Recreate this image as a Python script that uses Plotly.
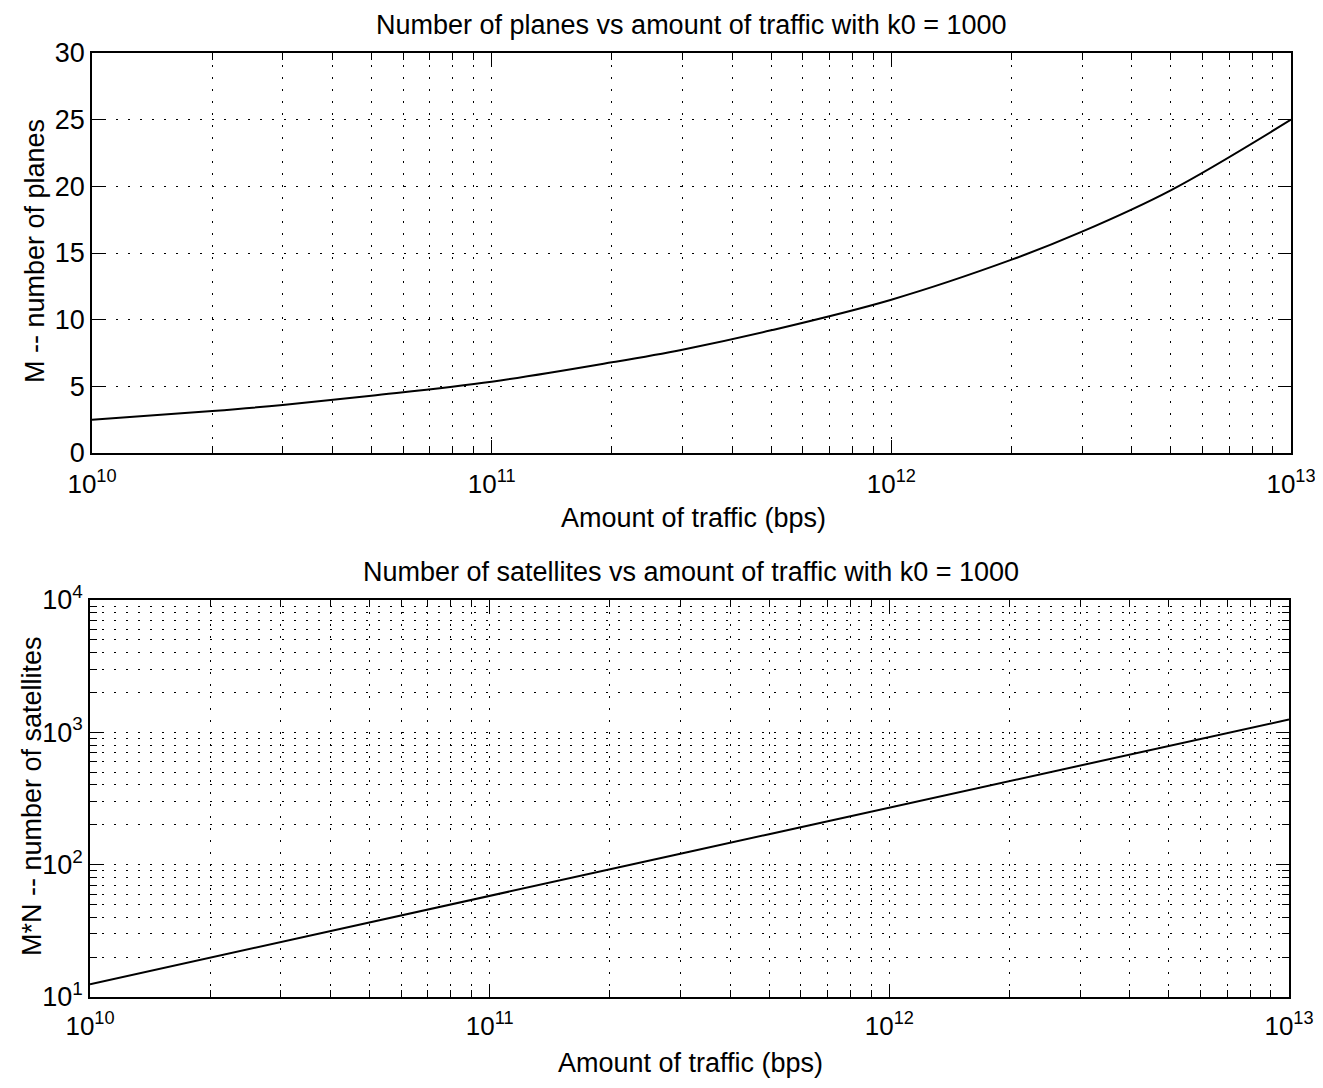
import plotly.graph_objects as go

# Data
traffic_bps = [1e10, 2e10, 3e10, 5e10, 1e11, 2e11, 3e11, 5e11, 1e12, 2e12, 3e12, 5e12, 1e13]
planes_M = [2.5, 3.15, 3.6, 4.3, 5.35, 6.8, 7.75, 9.2, 11.5, 14.5, 16.6, 19.7, 25.0]
satellites_MN = [12.5, 19.8, 26.0, 36.5, 58.0, 92.0, 121.0, 170.0, 270.0, 430.0, 562.0, 790.0, 1250.0]

x_tickvals = [1e10, 1e11, 1e12, 1e13]
x_ticktext = ["10<sup>10</sup>", "10<sup>11</sup>", "10<sup>12</sup>", "10<sup>13</sup>"]
y1_tickvals = [0, 5, 10, 15, 20, 25, 30]
y2_tickvals = [1e1, 1e2, 1e3, 1e4]
y2_ticktext = ["10<sup>1</sup>", "10<sup>2</sup>", "10<sup>3</sup>", "10<sup>4</sup>"]

title_top = "Number of planes vs amount of traffic with k0 = 1000"
title_bot = "Number of satellites vs amount of traffic with k0 = 1000"
xlabel = "Amount of traffic (bps)"
ylabel_top = "M -- number of planes"
ylabel_bot = "M*N -- number of satellites"

OFF = 8  # default page body margin
W, H = 1315, 1072
FONT = "Liberation Sans, Arial, Helvetica, sans-serif"

def px_x(p):
    return (p - OFF) / W

def px_y(p):
    return 1 - (p - OFF) / H

fig = go.Figure()
fig.add_trace(go.Scatter(x=traffic_bps, y=planes_M, mode="lines", line=dict(color="black", width=2),
                         line_shape="spline", xaxis="x", yaxis="y", showlegend=False))
fig.add_trace(go.Scatter(x=traffic_bps, y=satellites_MN, mode="lines", line=dict(color="black", width=2),
                         xaxis="x2", yaxis="y2", showlegend=False))

DASH = "1.5px,10.5px"
grid_common = dict(showgrid=True, gridcolor="black", gridwidth=1.3, griddash=DASH)
axis_common = dict(showline=True, linecolor="black", linewidth=1.5, mirror="ticks",
                   ticks="inside", ticklen=13, tickcolor="black", tickwidth=1.3,
                   zeroline=False, automargin=False, ticklabeloverflow="allow",
                   tickfont=dict(size=27, color="black", family=FONT))
xaxis_common = dict(axis_common, tickfont=dict(size=26, color="black", family=FONT))

minor_log = dict(dtick="D1", ticks="inside", ticklen=7, tickcolor="black", tickwidth=1.2,
                 showgrid=True, gridcolor="black", gridwidth=1.3, griddash=DASH)

fig.update_layout(
    width=W, height=H,
    margin=dict(l=0, r=0, t=0, b=0, autoexpand=False),
    paper_bgcolor="white", plot_bgcolor="white",
    font=dict(family=FONT, color="black"),
    xaxis=dict(type="log", range=[10, 13], domain=[px_x(92), px_x(1291)], anchor="y",
               tickvals=x_tickvals, ticktext=x_ticktext, ticklabelstandoff=7,
               minor=minor_log, **grid_common, **xaxis_common),
    yaxis=dict(range=[0, 30], domain=[px_y(453), px_y(53)], anchor="x",
               tickvals=y1_tickvals, **grid_common, **axis_common),
    xaxis2=dict(type="log", range=[10, 13], domain=[px_x(90), px_x(1289)], anchor="y2",
                tickvals=x_tickvals, ticktext=x_ticktext, ticklabelstandoff=5,
                minor=minor_log, **grid_common, **xaxis_common),
    yaxis2=dict(type="log", range=[1, 4], domain=[px_y(997), px_y(600)], anchor="x2",
                tickvals=y2_tickvals, ticktext=y2_ticktext,
                minor=minor_log, **grid_common, **axis_common),
)

ann_font = dict(size=27, color="black", family=FONT)
annotations = [
    dict(text=title_top, x=px_x(691), y=px_y(25)),
    dict(text=title_bot, x=px_x(691), y=px_y(572)),
    dict(text=xlabel, x=px_x(694), y=px_y(518)),
    dict(text=xlabel, x=px_x(690), y=px_y(1063)),
    dict(text=ylabel_top, x=px_x(35), y=px_y(251), textangle=-90),
    dict(text=ylabel_bot, x=px_x(32), y=px_y(796), textangle=-90),
]
for a in annotations:
    fig.add_annotation(xref="paper", yref="paper", showarrow=False, font=ann_font,
                       xanchor="center", yanchor="middle", **a)

fig.write_html("out.html")
